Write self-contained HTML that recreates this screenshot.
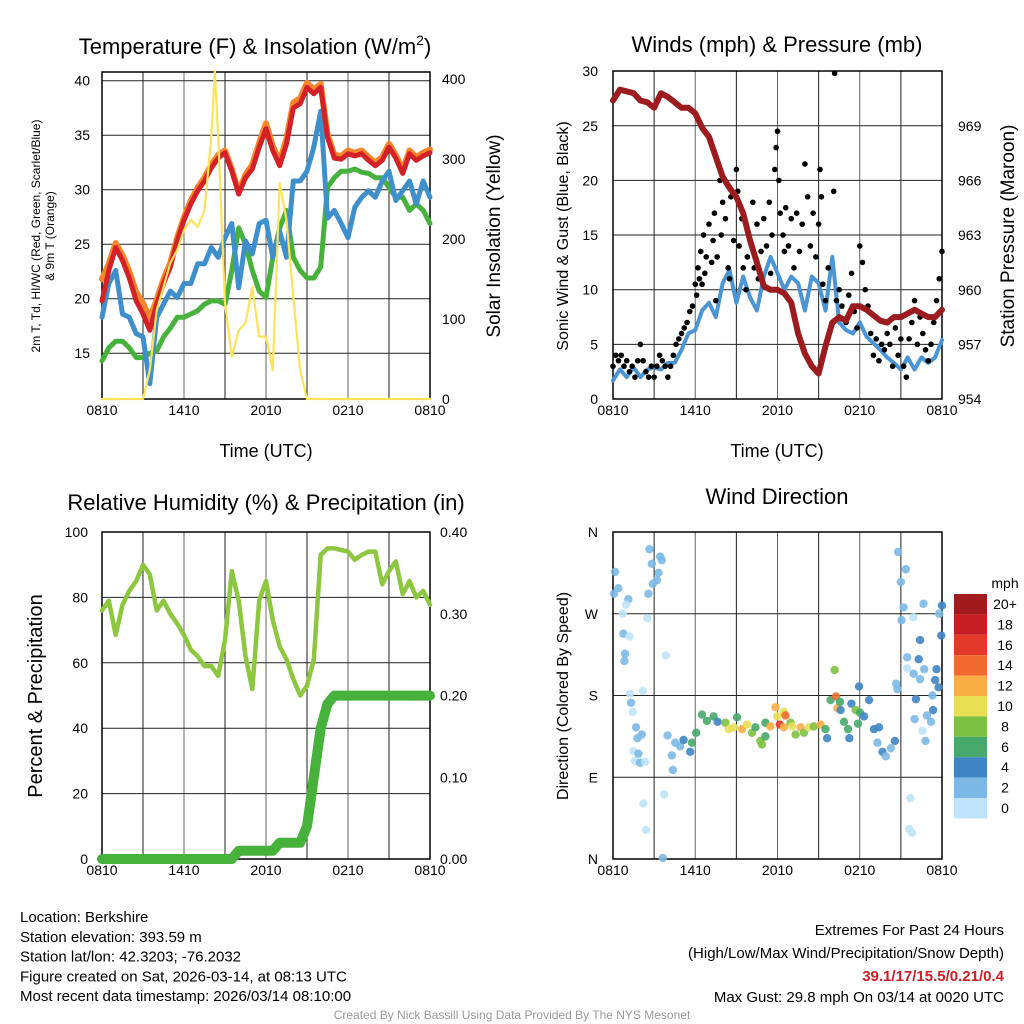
<!DOCTYPE html>
<html><head><meta charset="utf-8"><style>
html,body{margin:0;padding:0;background:#fff;}
svg{display:block;font-family:"Liberation Sans",sans-serif;}
</style></head><body>
<svg id="c" width="1024" height="1024" viewBox="0 0 1024 1024"></svg>
<script>
// ---------- DATA ----------
const hours = [0,0.5,1,1.5,2,2.5,3,3.5,4,4.5,5,5.5,6,6.5,7,7.5,8,8.5,9,9.5,10,10.5,11,11.5,12,12.5,13,13.5,14,14.5,15,15.5,16,16.5,17,17.5,18,18.5,19,19.5,20,20.5,21,21.5,22,22.5,23,23.5,24];
const tempRed = [19.8,22.6,24.7,23.5,21.9,19.8,18.6,17.1,19.5,21.4,22.9,25.3,27.2,28.7,29.9,30.8,32.0,32.9,33.4,31.7,29.6,31.1,31.9,33.9,35.6,33.6,32.2,34.2,37.5,37.9,39.4,38.8,39.4,34.8,32.9,32.8,33.3,33.1,33.3,32.7,32.2,32.7,33.9,32.9,31.5,33.3,32.7,33.1,33.4];
const temp9m = [21.8,23.2,25.1,24.0,22.5,20.6,19.6,18.2,19.9,21.8,23.3,25.6,27.5,29.0,30.2,31.1,32.3,33.2,33.6,31.9,29.8,31.4,32.3,34.3,36.1,34.0,32.6,34.7,38.0,38.4,39.8,39.2,39.7,35.1,33.2,33.1,33.6,33.4,33.6,33.0,32.5,33.0,34.2,33.2,31.8,33.6,33.0,33.4,33.7];
const windChill = [18.3,21.4,22.6,18.6,18.3,16.8,16.5,12.2,18.3,19.5,20.7,20.1,21.4,21.4,23.2,23.2,24.7,23.8,25.6,26.9,21.0,25.3,24.1,26.9,27.2,23.8,26.2,23.8,30.8,30.8,31.7,33.9,37.2,27.4,28.1,26.9,25.6,28.4,29.3,29.9,29.3,30.8,31.7,29.0,29.9,30.8,28.7,30.8,29.3];
const dewpoint = [14.3,15.5,16.1,16.1,15.5,14.6,14.6,15.0,15.2,16.5,17.3,18.3,18.3,18.6,18.9,19.5,19.8,19.8,19.5,22.6,26.5,25.0,22.6,20.7,20.1,23.8,26.5,28.1,23.8,22.6,21.9,21.9,22.9,30.2,31.1,31.7,31.7,31.9,31.6,31.5,31.1,31.1,30.2,29.3,29.3,28.1,28.7,28.1,26.9];
const solarHours = [0,3,3.5,4,4.5,5,5.5,6,6.5,7,7.5,8,8.25,8.5,9,9.5,10,10.5,11,11.5,12,12.5,13,13.5,14,14.5,15,24];
const solarVals = [0,0,36,111,140,170,186,211,224,215,236,328,410,328,120,53,86,95,140,78,78,36,270,224,128,36,0,0];
const pressure = [970.4,971.0,970.9,970.8,970.4,970.3,970.0,970.8,970.6,970.3,970.0,970.0,969.7,968.9,968.4,967.3,966.2,965.6,965.1,964.2,962.7,961.5,960.2,960.0,960.0,959.8,959.3,957.6,956.5,955.8,955.4,956.9,958.2,958.5,958.3,959.1,959.1,958.9,958.6,958.3,958.2,958.5,958.5,958.7,958.9,958.7,958.5,958.5,958.9];
const windSpeed = [1.7,2.7,2.0,2.9,2.0,2.7,2.9,2.7,3.3,3.3,4.5,6.0,6.3,8.1,8.8,7.5,10.6,11.8,8.8,11.2,9.3,8.1,11.2,13.0,11.5,10.0,11.2,10.6,8.1,11.2,10.6,8.1,13.0,7.0,6.3,6.0,7.0,5.7,5.1,4.5,3.8,3.3,2.7,3.8,2.7,3.8,3.3,3.8,5.4];
const gustHours = [0.0,0.2,0.4,0.6,0.8,1.0,1.2,1.4,1.6,1.8,2.0,2.2,2.4,2.6,2.8,3.0,3.2,3.4,3.6,3.8,4.0,4.2,4.4,4.6,4.8,5.0,5.2,5.4,5.6,5.8,6.0,6.1,6.2,6.3,6.4,6.5,6.6,6.7,6.8,7.0,7.2,7.3,7.4,7.5,7.6,7.8,7.9,8.0,8.2,8.4,8.5,8.6,8.8,9.0,9.1,9.2,9.4,9.5,9.7,9.8,10.0,10.2,10.3,10.5,10.6,10.8,11.0,11.2,11.4,11.5,11.6,11.8,11.9,12.0,12.1,12.2,12.4,12.5,12.6,12.8,13.0,13.2,13.4,13.6,13.8,14.0,14.2,14.4,14.6,14.8,15.0,15.1,15.2,15.3,15.5,15.7,16.17,16.1,16.3,16.5,16.7,17.0,17.2,17.4,17.6,17.8,18.0,18.2,18.4,18.6,18.8,19.0,19.2,19.4,19.6,19.8,20.0,20.2,20.4,20.6,20.8,21.0,21.2,21.4,21.6,21.8,22.0,22.2,22.4,22.6,22.8,23.0,23.2,23.4,23.6,23.8,24.0];
const gustVals = [3.0,4.0,3.5,4.0,3.0,3.5,2.5,3.0,2.0,3.5,5.0,3.5,2.5,2.0,3.0,2.0,3.0,4.0,3.5,3.0,2.0,3.0,4.0,5.0,5.5,6.0,6.5,7.0,8.0,8.5,10.5,9.5,12.0,11.0,13.5,10.5,15.0,11.5,13.0,16.0,12.5,14.5,17.0,9.0,13.0,20.0,15.0,18.0,16.5,12.0,11.0,18.5,14.5,21.0,19.0,14.0,16.5,12.0,10.0,13.0,14.5,18.0,12.0,16.0,11.0,13.5,16.5,14.0,18.0,11.5,15.0,21.0,23.0,24.5,20.0,17.0,15.0,13.5,17.5,14.0,16.5,12.0,17.0,13.5,16.0,21.5,18.5,14.0,17.0,13.0,16.0,21.0,18.5,10.5,9.0,12.0,29.8,19.0,9.0,10.0,8.5,7.0,9.5,11.5,8.0,6.5,14.0,12.5,10.0,8.5,6.0,4.0,5.5,3.5,5.0,4.5,6.0,5.0,3.0,6.5,4.0,5.5,3.0,2.0,5.5,7.0,9.0,5.0,7.5,6.0,4.5,3.5,5.0,7.0,9.0,11.0,13.5];
const rhVals = [76,79,68.5,77.7,82,85,90,87,76,79,75,72,68.5,64,62,59,59,56,67,88,79,62,52,79,85,73,65,61,55,50,53,61,93,95,95,94.5,94,91.5,93,94,94,84,88,91,81,85,80,82,77.7];
const precipVals = [0,0,0,0,0,0,0,0,0,0,0,0,0,0,0,0,0,0,0,0,0.01,0.01,0.01,0.01,0.01,0.01,0.02,0.02,0.02,0.02,0.04,0.10,0.16,0.19,0.20,0.20,0.20,0.20,0.20,0.20,0.20,0.20,0.20,0.20,0.20,0.20,0.20,0.20,0.20];
const dirHours = [0.15,0.39,0.07,1.12,0.95,0.71,0.76,1.2,0.88,0.83,1.24,1.32,1.44,1.68,1.78,2.1,1.49,1.85,1.61,1.98,2.34,2.17,2.66,2.83,3.44,3.56,3.32,3.2,2.9,2.58,2.5,3.85,2.22,2.41,3.73,3.63,4.37,4.29,3.98,4.54,4.9,5.15,5.63,5.76,6.07,6.49,6.85,7.34,7.63,8.2,8.44,8.8,9.05,9.41,9.78,10.14,10.39,10.75,10.87,11.12,11.12,11.48,11.85,11.97,12.17,12.46,12.58,12.46,12.95,13.07,13.32,13.68,13.93,14.29,14.65,15.14,15.5,15.62,15.87,16.17,16.27,16.37,16.56,16.6,16.85,17.14,17.24,17.39,17.7,17.95,18.02,17.87,18.31,18.68,19.04,19.41,19.29,19.66,19.9,20.27,20.56,20.66,20.75,20.8,21.36,21.0,21.2,21.05,21.9,21.46,21.46,22.3,22.4,21.93,22.4,22.7,22.65,23.5,23.75,23.3,22.1,22.0,22.9,23.2,22.58,22.8,23.35,24.0,23.8,23.95,23.6,21.7,21.6,21.8];
const dirVals = [316,298,292,286,280,270,248,245,226,218,182,172,162,145,133,137,119,116,108,106,107,185,341,325,333,329,315,307,303,292,265,224,61,32,71,1,98,114,136,128,124,131,118,128,139,159,152,157,151,150,143,145,156,143,148,139,145,130,126,150,135,146,167,157,148,162,158,145,150,146,137,145,139,145,146,148,143,133,175,208,179,166,173,164,151,143,133,171,164,190,161,149,157,175,143,145,128,118,113,122,130,193,187,338,319,305,277,263,266,222,210,220,241,204,198,209,281,197,189,180,176,154,158,151,141,130,164,279,270,246,209,67,33,29];
const dirSpeed = [3,3,3,3,1,1,3,1,3,3,1,3,1,3,3,3,1,3,1,3,1,1,3,3,3,3,3,3,3,3,1,1,1,1,1,3,3,3,3,3,3,4,4,6,6,7,7,7,4,9,11,10,7,12,11,8,6,8,9,7,6,12,12,10,17,10,14,12,8,10,9,12,8,10,9,12,6,4,6,8,15,12,6,5,6,6,4,4,8,4,6,6,4,4,4,4,2,4,2,2,4,2,2,2,2,2,2,3,1,3,1,4,4,2,2,2,2,4,4,2,4,2,2,2,1,2,4,4,2,4,4,1,1,1];
const speedLabels = ["20+","18","16","14","12","10","8","6","4","2","0"];
const speedColors = ["#a11a1d","#c41e24","#e2392a","#f06a2e","#f9ad45","#e8df55","#7dc142","#46a86a","#3f85c3","#7cb9e6","#bfe3f8"];
const timeLabels = ["0810","1410","2010","0210","0810"];

// ---------- HELPERS ----------
const svg = document.getElementById('c');
const NS = 'http://www.w3.org/2000/svg';
function el(tag, name, attrs, parent){
  const e = document.createElementNS(NS, tag);
  for (const k in attrs) e.setAttribute(k, attrs[k]);
  
  
  (parent||svg).appendChild(e);
  return e;
}
function txt(name, s, x, y, size, anchor, extra){
  const a = Object.assign({x:x, y:y, 'font-size':size, 'text-anchor':anchor||'middle', fill:'#000'}, extra||{});
  const t = el('text', name, a);
  t.textContent = s;
  return t;
}
function poly(name, xs, ys, fx, fy, stroke, w){
  const pts = xs.map((h,i)=>fx(h).toFixed(1)+','+fy(ys[i]).toFixed(1)).join(' ');
  return el('polyline', name, {points:pts, fill:'none', stroke:stroke, 'stroke-width':w, 'stroke-linejoin':'round', 'stroke-linecap':'round'});
}
function frame(prefix, x0, x1, y0, y1, hy){
  for (let h=0; h<=24; h+=3){
    const x = x0 + h/24*(x1-x0);
    el('line', prefix+'-vgrid', {x1:x, x2:x, y1:y0, y2:y1, stroke: h%6===0 ? '#666' : '#222', 'stroke-width':1});
  }
  hy.forEach(y=>el('line', prefix+'-hgrid', {x1:x0, x2:x1, y1:y, y2:y, stroke:'#222', 'stroke-width':1}));
  el('rect', prefix+'-frame', {x:x0, y:y0, width:x1-x0, height:y1-y0, fill:'none', stroke:'#000', 'stroke-width':1.5});
  timeLabels.forEach((s,i)=>txt(prefix+'-x-tick-label', s, x0 + i*(x1-x0)/4, y1+16, 14));
}

// ---------- PANEL 1 ----------
const P1 = {x0:102, x1:430, y0:72, y1:399};
const x1f = h => P1.x0 + h/24*(P1.x1-P1.x0);
const yT = v => 399 - (v-10.8)*10.9;
const yS = v => 399 - v*0.8;
frame('temp', P1.x0, P1.x1, P1.y0, P1.y1, [15,20,25,30,35,40].map(yT));
poly('dewpoint-line', hours, dewpoint, x1f, yT, '#46b23c', 5);
poly('wind-chill-line', hours, windChill, x1f, yT, '#3f8fcc', 5);
poly('temp-9m-line', hours, temp9m, x1f, yT, '#f7852b', 6);
poly('temp-2m-line', hours, tempRed, x1f, yT, '#d42027', 5);
poly('solar-line', solarHours, solarVals, x1f, yS, '#fde35a', 2.2);
[15,20,25,30,35,40].forEach(v=>txt('temp-y-tick-label', String(v), 90, yT(v)+5, 14, 'end'));
[0,100,200,300,400].forEach(v=>txt('solar-y-tick-label', String(v), 442, yS(v)+5, 14, 'start'));
const t1 = txt('temp-title', 'Temperature (F) & Insolation (W/m', 255, 54, 22);
const sup = document.createElementNS(NS,'tspan'); sup.setAttribute('font-size','14'); sup.setAttribute('dy','-9'); sup.textContent='2'; t1.appendChild(sup);
const cl = document.createElementNS(NS,'tspan'); cl.setAttribute('dy','9'); cl.textContent=')'; t1.appendChild(cl);
txt('temp-x-axis-title', 'Time (UTC)', 266, 457, 18);
txt('temp-y-axis-title', '2m T, Td, HI/WC (Red, Green, Scarlet/Blue)', 0, 0, 12, 'middle', {transform:'translate(40,236) rotate(-90)'});
txt('temp-y-axis-title-2', '& 9m T (Orange)', 0, 0, 12, 'middle', {transform:'translate(54,236) rotate(-90)'});
txt('solar-y-axis-title', 'Solar Insolation (Yellow)', 0, 0, 19, 'middle', {transform:'translate(500,236) rotate(-90)'});

// ---------- PANEL 2 ----------
const P2 = {x0:613, x1:942, y0:71, y1:399};
const x2f = h => P2.x0 + h/24*(P2.x1-P2.x0);
const yW = v => 399 - v*10.93;
const yP = p => 399 - (p-954)*18.2;
frame('wind', P2.x0, P2.x1, P2.y0, P2.y1, [5,10,15,20,25].map(yW));
poly('wind-speed-line', hours, windSpeed, x2f, yW, '#4b95d2', 4);
gustHours.forEach((h,i)=>{ el('circle', 'gust-point', {cx:x2f(h), cy:yW(gustVals[i]), r:2.8, fill:'#000'}); });
poly('pressure-line', hours, pressure, x2f, yP, '#9b1b1e', 6);
[0,5,10,15,20,25,30].forEach(v=>txt('wind-y-tick-label', String(v), 598, yW(v)+5, 14, 'end'));
[954,957,960,963,966,969].forEach(v=>txt('pressure-y-tick-label', String(v), 958, yP(v)+5, 14, 'start'));
txt('wind-title', 'Winds (mph) & Pressure (mb)', 777, 52, 22);
txt('wind-x-axis-title', 'Time (UTC)', 777, 457, 18);
txt('wind-y-axis-title', 'Sonic Wind & Gust (Blue, Black)', 0, 0, 16, 'middle', {transform:'translate(568,236) rotate(-90)'});
txt('pressure-y-axis-title', 'Station Pressure (Maroon)', 0, 0, 19, 'middle', {transform:'translate(1014,236) rotate(-90)'});

// ---------- PANEL 3 ----------
const P3 = {x0:102, x1:430, y0:532, y1:859};
const x3f = h => P3.x0 + h/24*(P3.x1-P3.x0);
const yRH = v => 859 - v*3.27;
const yPr = v => 859 - v*817;
frame('rh', P3.x0, P3.x1, P3.y0, P3.y1, [20,40,60,80].map(yRH));
poly('rh-line', hours, rhVals, x3f, yRH, '#8dc63f', 4.5);
poly('precip-line', hours, precipVals, x3f, yPr, '#46b23c', 10);
[0,20,40,60,80,100].forEach(v=>txt('rh-y-tick-label', String(v), 88, yRH(v)+5, 14, 'end'));
[0,0.1,0.2,0.3,0.4].forEach(v=>txt('precip-y-tick-label', v.toFixed(2), 440, yPr(v)+5, 14, 'start'));
txt('rh-title', 'Relative Humidity (%) & Precipitation (in)', 266, 510, 22);
txt('rh-y-axis-title', 'Percent & Precipitation', 0, 0, 20, 'middle', {transform:'translate(42,696) rotate(-90)'});

// ---------- PANEL 4 ----------
const P4 = {x0:613, x1:942, y0:532, y1:859};
const x4f = h => P4.x0 + h/24*(P4.x1-P4.x0);
const yD = d => 859 - d*327/360;
frame('dir', P4.x0, P4.x1, P4.y0, P4.y1, [90,180,270].map(yD));
dirHours.forEach((h,i)=>{
  const idx = Math.min(10, Math.floor(dirSpeed[i]/2));
  el('circle', 'direction-point', {cx:x4f(h), cy:yD(dirVals[i]), r:4.2, fill:speedColors[10-idx], 'fill-opacity':0.9});
});
[['N',360],['W',270],['S',180],['E',90],['N',0]].forEach(p=>txt('dir-y-tick-label', p[0], 598, yD(p[1])+5, 14, 'end'));
txt('dir-title', 'Wind Direction', 777, 504, 22);
txt('dir-y-axis-title', 'Direction (Colored By Speed)', 0, 0, 16, 'middle', {transform:'translate(568,696) rotate(-90)'});
txt('colorbar-title', 'mph', 1005, 588, 14);
speedLabels.forEach((s,i)=>{
  el('rect', 'colorbar-swatch', {x:954, y:594+i*20.4, width:33, height:20.4, fill:speedColors[i]});
  txt('colorbar-label', s, 1005, 594+i*20.4+15, 14);
});

// ---------- FOOTER ----------
['Location: Berkshire','Station elevation: 393.59 m','Station lat/lon: 42.3203; -76.2032','Figure created on Sat, 2026-03-14, at 08:13 UTC','Most recent data timestamp: 2026/03/14 08:10:00'].forEach((s,i)=>txt('station-info-line', s, 20, 922+i*19.8, 15, 'start'));
txt('extremes-title', 'Extremes For Past 24 Hours', 1004, 935, 15, 'end');
txt('extremes-legend', '(High/Low/Max Wind/Precipitation/Snow Depth)', 1004, 958, 15, 'end');
txt('extremes-values', '39.1/17/15.5/0.21/0.4', 1004, 981, 15, 'end', {fill:'#cc2027','font-weight':'bold'});
txt('max-gust', 'Max Gust: 29.8 mph On 03/14 at 0020 UTC', 1004, 1002, 15, 'end');
txt('credit', 'Created By Nick Bassill Using Data Provided By The NYS Mesonet', 512, 1019, 12, 'middle', {fill:'#999'});
</script>
</body></html>
